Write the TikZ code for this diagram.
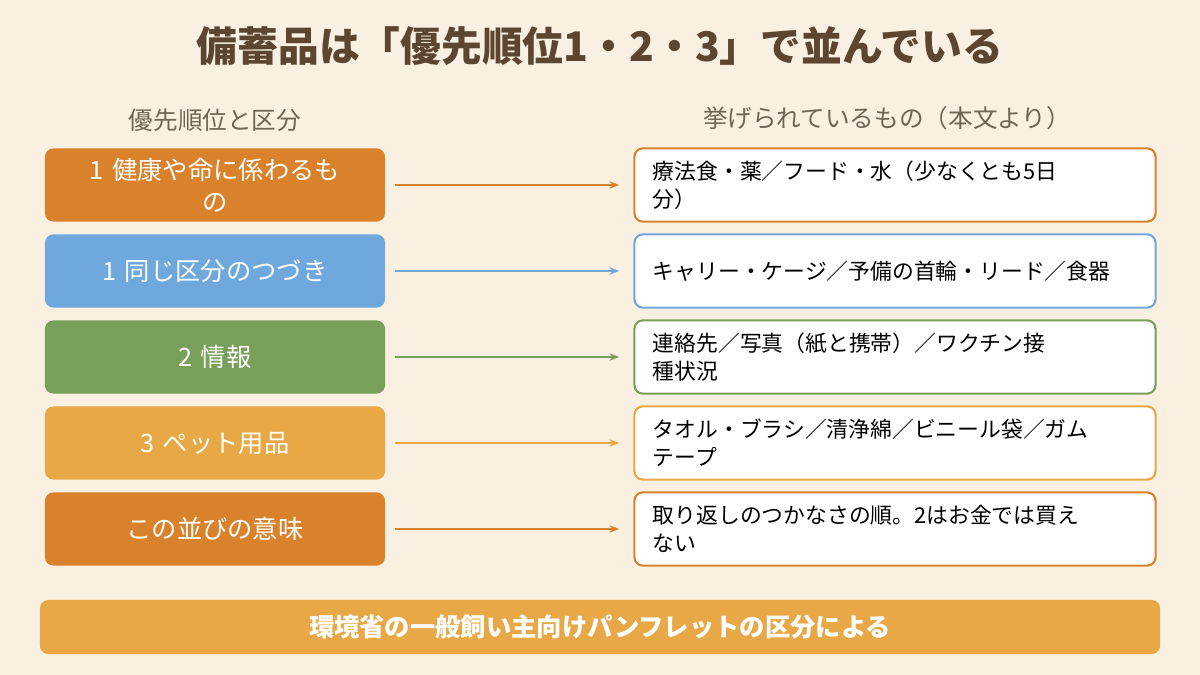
\documentclass[tikz,border=0pt]{standalone}
\usepackage{fontspec}
\setmainfont{Noto Sans CJK JP}
\usetikzlibrary{arrows.meta,positioning}
\definecolor{bgc}{HTML}{F9F0E1}
\definecolor{titc}{HTML}{5C4632}
\definecolor{hdc}{HTML}{6E6458}
\definecolor{cA}{HTML}{D9822B}
\definecolor{cB}{HTML}{6FA8DC}
\definecolor{cC}{HTML}{78A05A}
\definecolor{cD}{HTML}{E8A845}
\begin{document}
\begin{tikzpicture}[x=0.025cm,y=-0.025cm,
                    cat/.style={
                        rectangle,
                        rounded corners=6pt,
                        fill=#1,
                        text=white,
                        align=center,
                        font=\fontsize{18}{23}\selectfont,
                        text width=7.8cm,
                        minimum width=8.5cm,
                        minimum height=1.83cm
                    },
                    item/.style={
                        rectangle,
                        rounded corners=6pt,
                        draw=#1,
                        line width=1.5pt,
                        fill=white,
                        align=left,
                        font=\fontsize{15.5}{20}\selectfont,
                        text width=12.1cm,
                        minimum width=13.025cm,
                        minimum height=1.83cm
                    },
                    link/.style={draw=#1, line width=1.2pt, -{Stealth[length=7pt]}}
                ]
    \fill[bgc] (0,0) rectangle (1200,675);
    \node[text=titc, font=\fontsize{29}{34}\selectfont\bfseries] (title) at (600,46) {備蓄品は「優先順位1・2・3」で並んでいる};
    \node[text=hdc, font=\fontsize{17.5}{21}\selectfont] (hleft) at (215,120) {優先順位と区分};
    \node[text=hdc, font=\fontsize{17.5}{21}\selectfont] (hright) at (887,118) {挙げられているもの（本文より）};
    % categories
    \node[cat=cA] (c1) at (215,185) {1 健康や命に係わるも\\の};
    \node[cat=cB] (c2) at (215,271) {1 同じ区分のつづき};
    \node[cat=cC] (c3) at (215,357) {2 情報};
    \node[cat=cD] (c4) at (215,443) {3 ペット用品};
    \node[cat=cA] (c5) at (215,529) {この並びの意味};
    % items
    \node[item=cA] (i1) at (895,185) {療法食・薬／フード・水（少なくとも5日\\分）};
    \node[item=cB] (i2) at (895,271) {キャリー・ケージ／予備の首輪・リード／食器};
    \node[item=cC] (i3) at (895,357) {連絡先／写真（紙と携帯）／ワクチン接\\種状況};
    \node[item=cD] (i4) at (895,443) {タオル・ブラシ／清浄綿／ビニール袋／ガム\\テープ};
    \node[item=cA] (i5) at (895,529) {取り返しのつかなさの順。2はお金では買え\\ない};
    \draw[link=cA] (c1.east) ++(10,0) coordinate (a1) (a1) -- ([xshift=-10pt]i1.west);
    \draw[link=cB] (c2.east) ++(10,0) coordinate (a2) (a2) -- ([xshift=-10pt]i2.west);
    \draw[link=cC] (c3.east) ++(10,0) coordinate (a3) (a3) -- ([xshift=-10pt]i3.west);
    \draw[link=cD] (c4.east) ++(10,0) coordinate (a4) (a4) -- ([xshift=-10pt]i4.west);
    \draw[link=cA] (c5.east) ++(10,0) coordinate (a5) (a5) -- ([xshift=-10pt]i5.west);
    % footer
    \node[rectangle, rounded corners=6pt, fill=cD, text=white, font=\fontsize{18}{22}\selectfont\bfseries,
          minimum width=28cm, minimum height=1.35cm] (foot) at (600,627) {環境省の一般飼い主向けパンフレットの区分による};
\end{tikzpicture}
\end{document}
